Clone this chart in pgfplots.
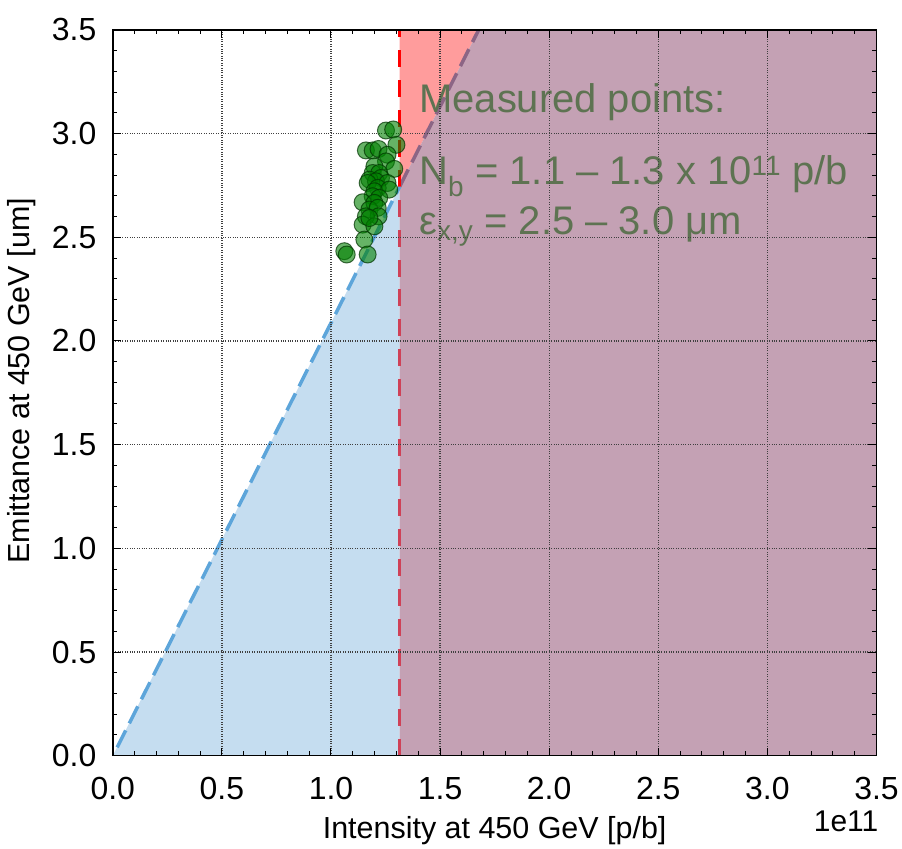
\documentclass[border=0pt]{standalone}
\usepackage{pgfplots}
\pgfplotsset{compat=1.18}
\usepackage{fontspec}
\setmainfont{Liberation Sans}
\definecolor{bfill}{RGB}{197,221,240}
\definecolor{rfill}{RGB}{255,156,156}
\definecolor{pfill}{RGB}{196,161,180}
\definecolor{bline}{RGB}{93,165,218}
\definecolor{pline}{RGB}{140,101,133}
\definecolor{rline}{RGB}{255,0,0}
\definecolor{cline}{RGB}{207,65,87}
\definecolor{txtc}{RGB}{94,115,82}
\definecolor{ptg}{RGB}{0,128,0}
\begin{document}
\begin{tikzpicture}
\begin{axis}[
  scale only axis,
  width=765pt, height=727pt,
  xmin=0, xmax=3.5, ymin=0, ymax=3.5,
  xtick={0,0.5,...,3.5}, ytick={0,0.5,...,3.5},
  xticklabels={0.0,0.5,1.0,1.5,2.0,2.5,3.0,3.5},
  yticklabels={0.0,0.5,1.0,1.5,2.0,2.5,3.0,3.5},
  minor tick num=4,
  tick align=inside,
  major tick length=8pt, minor tick length=4.5pt,
  tick style={black, line width=1pt},
  axis line style={black, line width=1.6pt},
  grid=major,
  major grid style={black!75, dotted, line width=1.3pt},
  axis on top,
  /pgf/number format/assume math mode=true,
  tick label style={font=\fontsize{32}{38}\selectfont},
  xticklabel style={yshift=-18pt},
  yticklabel style={xshift=-13pt},
  xlabel={Intensity at 450 GeV [p/b]},
  ylabel={Emittance at 450 GeV [um]},
  label style={font=\fontsize{30.5}{36}\selectfont},
  xlabel style={yshift=-10pt},
  ylabel style={yshift=9pt, xshift=12pt},
  clip=true,
]
% fills
\addplot[fill=bfill, draw=none] coordinates {(0,0) (1.315,2.745) (1.315,0)} -- cycle;
\addplot[fill=rfill, draw=none] coordinates {(1.315,2.745) (1.315,3.5) (1.6766,3.5)} -- cycle;
\addplot[fill=pfill, draw=none] coordinates {(1.315,0) (1.315,2.745) (1.6766,3.5) (3.5,3.5) (3.5,0)} -- cycle;
% measured points
\addplot[only marks, mark=*, mark size=8.5pt,
  mark options={fill=ptg, fill opacity=0.6, draw=black!60!ptg, draw opacity=0.7, line width=1pt}]
coordinates {
(1.252,3.015) (1.285,3.020) (1.300,2.946) (1.160,2.919) (1.191,2.919)
(1.218,2.926) (1.259,2.898) (1.252,2.866) (1.290,2.830) (1.199,2.842)
(1.191,2.810) (1.221,2.810) (1.229,2.786) (1.176,2.778) (1.206,2.770)
(1.168,2.762) (1.259,2.762) (1.214,2.738) (1.199,2.722) (1.267,2.730)
(1.191,2.698) (1.221,2.690) (1.145,2.669) (1.199,2.666) (1.176,2.634)
(1.214,2.642) (1.218,2.601) (1.160,2.601) (1.145,2.561) (1.199,2.553)
(1.176,2.593) (1.153,2.489) (1.061,2.433) (1.072,2.417) (1.168,2.417)
};
% lines
\addplot[bline, line width=3.5pt, dash pattern=on 19pt off 8pt] coordinates {(0.02,0.04) (1.315,2.745)};
\addplot[pline, line width=3.5pt, dash pattern=on 19pt off 8pt] coordinates {(1.315,2.745) (1.6766,3.5)};
\addplot[cline, line width=3.5pt, dash pattern=on 17pt off 13pt] coordinates {(1.315,0) (1.315,2.745)};
\addplot[rline, line width=3.5pt, dash pattern=on 17pt off 13pt] coordinates {(1.315,2.745) (1.315,3.5)};
% annotation
\node[anchor=base west, inner sep=0pt, text=txtc, font=\fontsize{40}{46}\selectfont] at (axis cs:1.404,3.102) {Measured points:};
\node[anchor=base west, inner sep=0pt, text=txtc, font=\fontsize{40}{46}\selectfont] at (axis cs:1.404,2.754) {N\textsubscript{b} = 1.1 – 1.3 x 10\textsuperscript{11} p/b};
\node[anchor=base west, inner sep=0pt, text=txtc, font=\fontsize{40}{46}\selectfont] at (axis cs:1.404,2.513) {ε\textsubscript{x,y} = 2.5 – 3.0 μm};
\end{axis}
\node[anchor=base east, inner sep=0pt, font=\fontsize{30}{36}\selectfont] at ([xshift=2pt,yshift=-76pt]current axis.south east) {1e11};
\path ([xshift=-113pt,yshift=-87pt]current axis.south west) rectangle ([xshift=24pt,yshift=30pt]current axis.north east);
\end{tikzpicture}
\end{document}
